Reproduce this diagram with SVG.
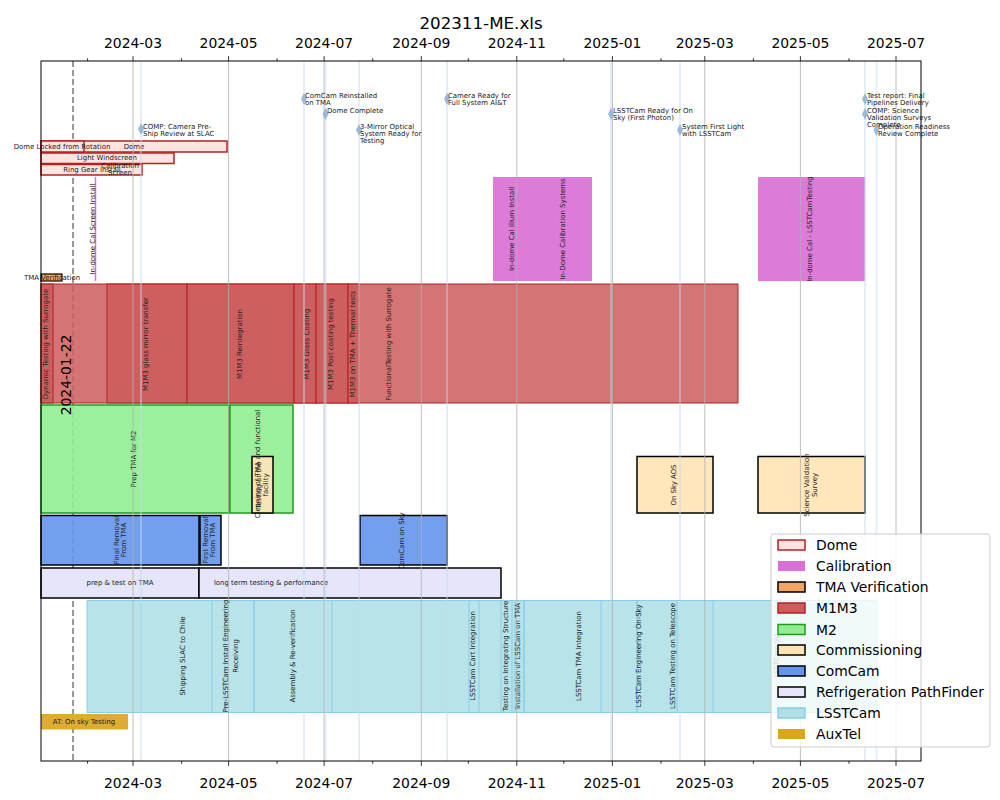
<svg xmlns="http://www.w3.org/2000/svg" width="1000" height="800" viewBox="0 0 1000 800">
<style>
text{font-family:"DejaVu Sans",Verdana,sans-serif;fill:#222}
.t{font-size:6.94px}
.r{font-size:6.94px;text-anchor:middle;dominant-baseline:central}
.h{font-size:6.94px;text-anchor:middle;dominant-baseline:central}
.tick{font-size:13.9px;text-anchor:middle;fill:#000}
.leg{font-size:13.9px;fill:#000}
.grid{stroke:#b0b0b0;stroke-width:0.8}
.ms{stroke:#c6d9ee;stroke-opacity:0.45;stroke-width:2}
.dome{fill:#ffe4e1;stroke:#b22222;stroke-width:1.5}
.cal{fill:#da70d6;fill-opacity:0.92}
.m1{fill:#cd5c5c;fill-opacity:0.85;stroke:#b22222;stroke-width:1}
.m2{fill:#90ee90;fill-opacity:0.9;stroke:#1f9a1f;stroke-width:1.5}
.com{fill:#ffe4b5;fill-opacity:0.92;stroke:#000;stroke-width:1.5}
.cc{fill:#6495ed;fill-opacity:0.9;stroke:#000;stroke-width:1.5}
.rp{fill:#e6e6fa;stroke:#000;stroke-width:1.5}
.ls{fill:#b0e0e6;fill-opacity:0.9;stroke:#87ceeb;stroke-width:1}
.lsb{fill:none;stroke:#87ceeb;stroke-width:1}
.dia{fill:#8fb3d6;fill-opacity:0.9}
</style>
<rect width="1000" height="800" fill="#fff"/>
<text x="481" y="29" style="font-size:16.7px;text-anchor:middle;fill:#000">202311-ME.xls</text>

<!-- dashed date line (beneath bars) -->
<line x1="73" y1="61" x2="73" y2="761" stroke="#808080" stroke-width="1.6" stroke-dasharray="6,3"/>

<g id="dome">
<rect class="dome" x="41" y="141" width="186" height="11"/>
<rect class="dome" x="41" y="141" width="43" height="11"/>
<rect class="dome" x="41" y="153" width="133" height="10.5"/>
<rect class="dome" x="41" y="164.5" width="101" height="10.5"/>
<text class="h" x="62" y="146.5">Dome Locked from Rotation</text>
<text class="h" x="134" y="146.5">Dome</text>
<text class="h" x="107" y="158">Light Windscreen</text>
<text class="h" x="92" y="169.5">Ring Gear Install</text>
<text class="h" x="120" y="165.5">Calibration</text>
<text class="h" x="120" y="172.5">Screen</text>
</g>

<g id="calibration">
<line x1="95.5" y1="177" x2="95.5" y2="281" stroke="#da70d6" stroke-width="1.5"/>
<text class="r" transform="translate(93,229) rotate(-90)">In-dome Cal Screen Install</text>
<rect class="cal" x="493" y="177" width="44" height="104"/>
<rect class="cal" x="537" y="177" width="55" height="104"/>
<rect class="cal" x="758" y="177" width="107" height="104"/>
<text class="r" transform="translate(512,229) rotate(-90)">In-dome Cal Illum Install</text>
<text class="r" transform="translate(563,229) rotate(-90)">In-Dome Calibration Systems</text>
<text class="r" transform="translate(810,229) rotate(-90)">In-dome Cal - LSSTCamTesting</text>
</g>

<g id="tma-verification">
<rect x="41" y="274" width="21" height="7" fill="#f4a460" stroke="#000" stroke-width="1.2"/>
<text class="h" x="52" y="278">TMA Verification</text>
</g>

<g id="m1m3">
<rect class="m1" x="41" y="284" width="697" height="119"/>
<rect class="m1" x="41" y="284" width="12" height="119"/>
<rect class="m1" x="107" y="284" width="80" height="119"/>
<rect class="m1" x="187" y="284" width="107" height="119"/>
<rect class="m1" x="294" y="284" width="22" height="119"/>
<rect class="m1" x="316" y="284" width="32" height="119"/>
<rect class="m1" x="348" y="284" width="11" height="119"/>
<text class="r" transform="translate(46,344) rotate(-90)">Dynamic Testing with Surrogate</text>
<text class="r" transform="translate(146,344) rotate(-90)">M1M3 glass mirror transfer</text>
<text class="r" transform="translate(240,344) rotate(-90)">M1M3 Reintegration</text>
<text class="r" transform="translate(306.5,344) rotate(-90)">M1M3 Glass Coating</text>
<text class="r" transform="translate(331,344) rotate(-90)">M1M3 Post coating testing</text>
<text class="r" transform="translate(353,344) rotate(-90)">M1M3 on TMA + Thermal tests</text>
<text class="r" transform="translate(389,344) rotate(-90)">FunctionalTesting with Surrogate</text>
</g>

<g id="m2">
<rect class="m2" x="41" y="405" width="188" height="108"/>
<rect class="m2" x="230" y="405" width="63" height="108"/>
<text class="r" transform="translate(134,459) rotate(-90)">Prep TMA for M2</text>
</g>

<g id="commissioning">
<rect class="com" x="252" y="456.5" width="21" height="56.5"/>
<rect class="com" x="637" y="456.5" width="76" height="56.5"/>
<rect class="com" x="758" y="456.5" width="107" height="56.5"/>
<text class="r" transform="translate(258,464) rotate(-90)">Cleaning of TMA and  functional</text>
<text class="r" transform="translate(259,485) rotate(-90)">Testing at the</text>
<text class="r" transform="translate(266,485) rotate(-90)">facility</text>
<text class="r" transform="translate(674,485) rotate(-90)">On Sky AOS</text>
<text class="r" transform="translate(807,485) rotate(-90)">Science Validation</text>
<text class="r" transform="translate(815,485) rotate(-90)">Survey</text>
</g>

<g id="comcam">
<rect class="cc" x="41" y="515.5" width="158" height="49.5"/>
<rect class="cc" x="200" y="515.5" width="21" height="49.5"/>
<rect class="cc" x="360" y="515.5" width="87" height="49.5"/>
<text class="r" transform="translate(117,540) rotate(-90)">Final Removal</text>
<text class="r" transform="translate(124,540) rotate(-90)">From TMA</text>
<text class="r" transform="translate(206,540) rotate(-90)">First Removal</text>
<text class="r" transform="translate(213,540) rotate(-90)">From TMA</text>
<text class="r" transform="translate(402,541) rotate(-90)">ComCam on Sky</text>
</g>

<g id="refrigeration">
<rect class="rp" x="41" y="568" width="158" height="30"/>
<rect class="rp" x="199" y="568" width="302" height="30"/>
<text class="h" x="120" y="583">prep &amp; test  on TMA</text>
<text class="h" x="271" y="583">long term testing &amp; performance</text>
</g>

<g id="lsstcam">
<rect class="ls" x="87" y="600.5" width="790" height="112"/>
<rect class="lsb" x="141" y="600.5" width="84" height="112"/>
<rect class="lsb" x="212" y="600.5" width="42" height="112"/>
<rect class="lsb" x="254" y="600.5" width="78" height="112"/>
<rect class="lsb" x="469" y="600.5" width="10" height="112"/>
<rect class="lsb" x="501" y="600.5" width="11" height="112"/>
<rect class="lsb" x="515" y="600.5" width="9" height="112"/>
<rect class="lsb" x="524" y="600.5" width="113" height="112"/>
<rect class="lsb" x="601" y="600.5" width="76" height="112"/>
<rect class="lsb" x="637" y="600.5" width="76" height="112"/>
<text class="r" transform="translate(183,656) rotate(-90)">Shipping SLAC to Chile</text>
<text class="r" transform="translate(226,656) rotate(-90)">Pre-LSSTCam Install Engineering</text>
<text class="r" transform="translate(236,656) rotate(-90)">Receiving</text>
<text class="r" transform="translate(293,656) rotate(-90)">Assembly &amp; Re-verification</text>
<text class="r" transform="translate(473,656) rotate(-90)">LSSTCam Cart Integration</text>
<text class="r" transform="translate(506,656) rotate(-90)">Testing on Integrating Structure</text>
<text class="r" transform="translate(518,656) rotate(-90)">Installation of LSSCam on TMA</text>
<text class="r" transform="translate(579,656) rotate(-90)">LSSTCam TMA Integration</text>
<text class="r" transform="translate(639,656) rotate(-90)">LSSTCam Engineering On-Sky</text>
<text class="r" transform="translate(673,656) rotate(-90)">LSSTCam Testing on Telescope</text>
<text class="r" transform="translate(777,656) rotate(-90)">LSSTCam SV</text>
</g>

<g id="auxtel">
<rect x="41" y="714" width="87" height="15.5" fill="#daa520" fill-opacity="0.92"/>
<text class="h" x="84" y="722">AT: On sky Testing</text>
</g>

<!-- grid lines and milestone lines -->
<g id="connectors">
<g class="grid">
<line x1="133" y1="61" x2="133" y2="761"/>
<line x1="228.6" y1="61" x2="228.6" y2="761"/>
<line x1="324.1" y1="61" x2="324.1" y2="761"/>
<line x1="421.3" y1="61" x2="421.3" y2="761"/>
<line x1="516.8" y1="61" x2="516.8" y2="761"/>
<line x1="612.4" y1="61" x2="612.4" y2="761"/>
<line x1="704.8" y1="61" x2="704.8" y2="761"/>
<line x1="800.4" y1="61" x2="800.4" y2="761"/>
<line x1="896" y1="61" x2="896" y2="761"/>
</g>
<g class="ms">
<line x1="141" y1="61" x2="141" y2="761"/>
<line x1="304" y1="61" x2="304" y2="761"/>
<line x1="325.5" y1="61" x2="325.5" y2="761"/>
<line x1="359" y1="61" x2="359" y2="761"/>
<line x1="447" y1="61" x2="447" y2="761"/>
<line x1="611" y1="61" x2="611" y2="761"/>
<line x1="680" y1="61" x2="680" y2="761"/>
<line x1="865" y1="61" x2="865" y2="761"/>
<line x1="876.5" y1="61" x2="876.5" y2="761"/>
</g>
</g>

<g id="milestones">
<path class="dia" d="M141,123 l3,6 l-3,6 l-3,-6z"/>
<text class="t" x="143" y="128.7">COMP: Camera Pre-</text>
<text class="t" x="143" y="135.5">Ship Review at SLAC</text>
<path class="dia" d="M304,93 l3,6 l-3,6 l-3,-6z"/>
<text class="t" x="305" y="98.2">ComCam Reinstalled</text>
<text class="t" x="305" y="105">on TMA</text>
<path class="dia" d="M325.5,108 l3,6 l-3,6 l-3,-6z"/>
<text class="t" x="327" y="113.2">Dome Complete</text>
<path class="dia" d="M359,124 l3,6 l-3,6 l-3,-6z"/>
<text class="t" x="360" y="129.2">3-Mirror Optical</text>
<text class="t" x="360" y="136">System Ready for</text>
<text class="t" x="360" y="142.8">Testing</text>
<path class="dia" d="M447,93 l3,6 l-3,6 l-3,-6z"/>
<text class="t" x="448" y="98.2">Camera Ready for</text>
<text class="t" x="448" y="105">Full System AI&amp;T</text>
<path class="dia" d="M611,108 l3,6 l-3,6 l-3,-6z"/>
<text class="t" x="613" y="113.2">LSSTCam Ready for On</text>
<text class="t" x="613" y="120">Sky (First Photon)</text>
<path class="dia" d="M680,124 l3,6 l-3,6 l-3,-6z"/>
<text class="t" x="682" y="129.2">System First Light</text>
<text class="t" x="682" y="136">with LSSTCam</text>
<path class="dia" d="M865,93 l3,6 l-3,6 l-3,-6z"/>
<text class="t" x="867" y="98.2">Test report: Final</text>
<text class="t" x="867" y="105">Pipelines Delivery</text>
<path class="dia" d="M865,108 l3,6 l-3,6 l-3,-6z"/>
<text class="t" x="867" y="112.5">COMP: Science</text>
<text class="t" x="867" y="119.8">Validation Surveys</text>
<text class="t" x="867" y="126.6">Complete</text>
<path class="dia" d="M876.5,124 l3,6 l-3,6 l-3,-6z"/>
<text class="t" x="878" y="129.2">Operation Readiness</text>
<text class="t" x="878" y="136">Review Complete</text>
</g>

<text transform="translate(71,375) rotate(-90)" style="font-size:13.9px;text-anchor:middle;fill:#000">2024-01-22</text>

<!-- axes frame and ticks -->
<g id="axes">
<rect x="41" y="61" width="880" height="700" fill="none" stroke="#000" stroke-width="1"/>
<g stroke="#000" stroke-width="0.8">
<path d="M133,61v-4.9M228.6,61v-4.9M324.1,61v-4.9M421.3,61v-4.9M516.8,61v-4.9M612.4,61v-4.9M704.8,61v-4.9M800.4,61v-4.9M896,61v-4.9"/>
<path d="M133,761v4.9M228.6,761v4.9M324.1,761v4.9M421.3,761v4.9M516.8,761v4.9M612.4,761v4.9M704.8,761v4.9M800.4,761v4.9M896,761v4.9"/>
<path d="M87.6,61v-2.8M181.6,61v-2.8M277.1,61v-2.8M372.7,61v-2.8M468.3,61v-2.8M563.8,61v-2.8M661,61v-2.8M753.4,61v-2.8M849,61v-2.8"/>
<path d="M87.6,761v2.8M181.6,761v2.8M277.1,761v2.8M372.7,761v2.8M468.3,761v2.8M563.8,761v2.8M661,761v2.8M753.4,761v2.8M849,761v2.8"/>
</g>
<text class="tick" x="133" y="48">2024-03</text>
<text class="tick" x="228.6" y="48">2024-05</text>
<text class="tick" x="324.1" y="48">2024-07</text>
<text class="tick" x="421.3" y="48">2024-09</text>
<text class="tick" x="516.8" y="48">2024-11</text>
<text class="tick" x="612.4" y="48">2025-01</text>
<text class="tick" x="704.8" y="48">2025-03</text>
<text class="tick" x="800.4" y="48">2025-05</text>
<text class="tick" x="896" y="48">2025-07</text>
<text class="tick" x="133" y="788">2024-03</text>
<text class="tick" x="228.6" y="788">2024-05</text>
<text class="tick" x="324.1" y="788">2024-07</text>
<text class="tick" x="421.3" y="788">2024-09</text>
<text class="tick" x="516.8" y="788">2024-11</text>
<text class="tick" x="612.4" y="788">2025-01</text>
<text class="tick" x="704.8" y="788">2025-03</text>
<text class="tick" x="800.4" y="788">2025-05</text>
<text class="tick" x="896" y="788">2025-07</text>
</g>

<g id="legend">
<rect x="771" y="534" width="219" height="213" rx="3" fill="#fff" fill-opacity="0.8" stroke="#cccccc" stroke-width="1"/>
<rect class="dome" x="778" y="540" width="27" height="10"/>
<text class="leg" x="816" y="550">Dome</text>
<rect x="778" y="561" width="27" height="10" fill="#da70d6"/>
<text class="leg" x="816" y="571">Calibration</text>
<rect x="778" y="582" width="27" height="10" fill="#f4a460" stroke="#000" stroke-width="1.5"/>
<text class="leg" x="816" y="592">TMA Verification</text>
<rect x="778" y="603" width="27" height="10" fill="#cd5c5c" stroke="#b22222" stroke-width="1.5"/>
<text class="leg" x="816" y="613">M1M3</text>
<rect x="778" y="624.5" width="27" height="10" fill="#90ee90" stroke="#1f9a1f" stroke-width="1.5"/>
<text class="leg" x="816" y="634.5">M2</text>
<rect x="778" y="645" width="27" height="10" fill="#ffe4b5" stroke="#000" stroke-width="1.5"/>
<text class="leg" x="816" y="655">Commissioning</text>
<rect x="778" y="666" width="27" height="10" fill="#6495ed" stroke="#000" stroke-width="1.5"/>
<text class="leg" x="816" y="676">ComCam</text>
<rect x="778" y="687" width="27" height="10" fill="#e6e6fa" stroke="#000" stroke-width="1.5"/>
<text class="leg" x="816" y="697">Refrigeration PathFinder</text>
<rect x="778" y="708" width="27" height="10" fill="#b0e0e6" stroke="#87ceeb" stroke-width="1.5"/>
<text class="leg" x="816" y="718">LSSTCam</text>
<rect x="778" y="729" width="27" height="10" fill="#daa520"/>
<text class="leg" x="816" y="739">AuxTel</text>
</g>
</svg>
